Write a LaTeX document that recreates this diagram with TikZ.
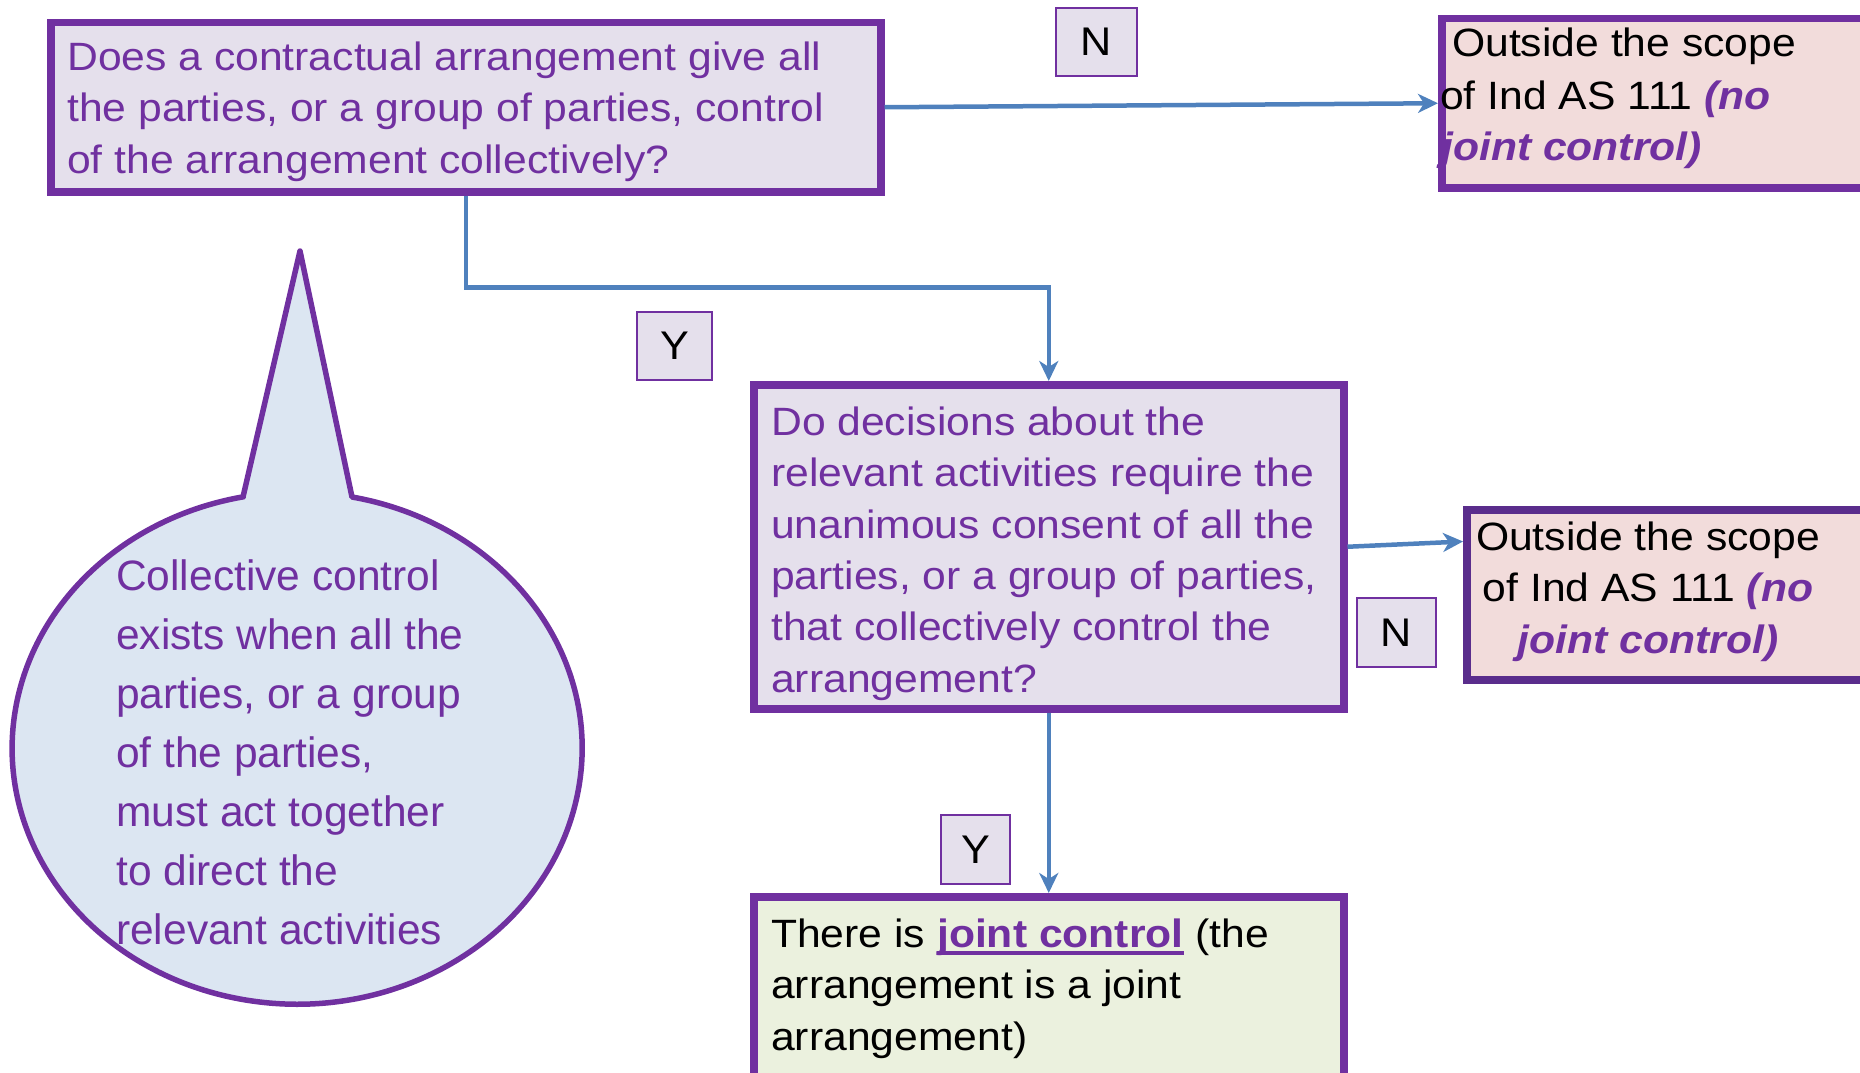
\documentclass[tikz,border=0pt]{standalone}
\usepackage{fontspec}
\setmainfont{Liberation Sans}
\newfontfamily\boxfont[FakeStretch=1.08]{Liberation Sans}
\usetikzlibrary{arrows.meta,calc}
\definecolor{qpurple}{HTML}{7030A0}
\definecolor{qdeep}{HTML}{5A2D8C}
\definecolor{qlav}{HTML}{E5E0EC}
\definecolor{qpink}{HTML}{F2DCDB}
\definecolor{qgreen}{HTML}{EBF1DE}
\definecolor{qsky}{HTML}{DCE6F2}
\definecolor{qblue}{HTML}{4F81BD}
% bold purple emphasis and the underlined key term
\newcommand{\noctl}[1]{\textcolor{qpurple}{\bfseries\itshape #1}}
\newcommand{\keyterm}[1]{\textcolor{qpurple}{\setbox0\hbox{\bfseries #1}\rlap{\rule[-7.5pt]{\wd0}{3.5pt}}\box0}}
\begin{document}
\begin{tikzpicture}[x=1pt,y=-1pt,
  panel/.style={draw=qpurple, line width=7.5pt, fill=qlav, inner sep=0pt, anchor=north west},
  tag/.style={draw=qpurple, line width=2pt, fill=qlav, inner sep=0pt, anchor=north west,
    font=\boxfont\fontsize{40}{48}\selectfont},
  txt/.style={anchor=base west, inner sep=0pt, align=left,
    font=\boxfont\fontsize{39.5}{51.3}\selectfont},
  flow/.style={draw=qblue, line width=4.5pt, -{Stealth[length=20pt,width=19pt,inset=6pt]}}]

\useasboundingbox (0,0) rectangle (1860,1073);

% speech bubble with its note (multi-line nodes are anchored at their last baseline)
\draw[draw=qpurple, line width=5.5pt, fill=qsky, line join=round]
  (243,497) -- (300,251) -- (352,497)
  arc[start angle=78.9, end angle=-259.1, x radius=285pt, y radius=256pt] -- cycle;
\node[anchor=base west, inner sep=0pt, align=left, text=qpurple,
  font=\fontsize{42.5}{59}\selectfont] (note) at (116,944)
  {Collective control\\exists when all the\\parties, or a group\\of the parties,\\must act together\\to direct the\\relevant activities};

% decision and outcome boxes (placed by their outer corners)
\node[panel, minimum width=830pt, minimum height=169pt] (b1) at (47,19) {};
\node[panel, fill=qpink, minimum width=500pt, minimum height=169pt] (b2) at (1438,15) {};
\node[panel, minimum width=590pt, minimum height=324pt] (b3) at (750,381) {};
\node[panel, draw=qdeep, fill=qpink, minimum width=500pt, minimum height=170pt] (b4) at (1463,506) {};
\node[panel, fill=qgreen, minimum width=590pt, minimum height=260pt] (b5) at (750,893) {};

\node[txt, text=qpurple] (t1) at (67,173)
  {Does a contractual arrangement give all\\the parties, or a group of parties, control\\of the arrangement collectively?};
\node[txt] (t2a) at (1452,57) {Outside the scope};
\node[txt] (t2b) at (1440,109) {of Ind AS 111 \noctl{(no}};
\node[txt] (t2c) at (1441,160) {\noctl{joint control)}};
\node[txt, text=qpurple] (t3) at (771,692)
  {Do decisions about the\\relevant activities require the\\unanimous consent of all the\\parties, or a group of parties,\\that collectively control the\\arrangement?};
\node[txt, anchor=base, align=center] (t4) at (1648,653)
  {Outside the scope\\of Ind AS 111 \noctl{(no}\\\noctl{joint control)}};
\node[txt] (t5) at (771,1050)
  {There is \keyterm{joint control} (the\\arrangement is a joint\\arrangement)};

% connectors
\draw[flow] (b1.east) -- (b2.west);
\draw[flow] (b1.south) -- ++(0,92) -| (b3.north);
\draw[flow] (b3.east) -- ($(b4.north west)!0.2!(b4.south west)$);
\draw[flow] (b3.south) -- (b5.north);

% answer tags
\node[tag, minimum width=81pt, minimum height=68pt] (n1) at (1055,7) {N};
\node[tag, minimum width=75pt, minimum height=68pt] (y1) at (636,311) {Y};
\node[tag, minimum width=79pt, minimum height=69pt] (n2) at (1356,597) {N};
\node[tag, minimum width=69pt, minimum height=69pt] (y2) at (940,814) {Y};
\end{tikzpicture}
\end{document}
